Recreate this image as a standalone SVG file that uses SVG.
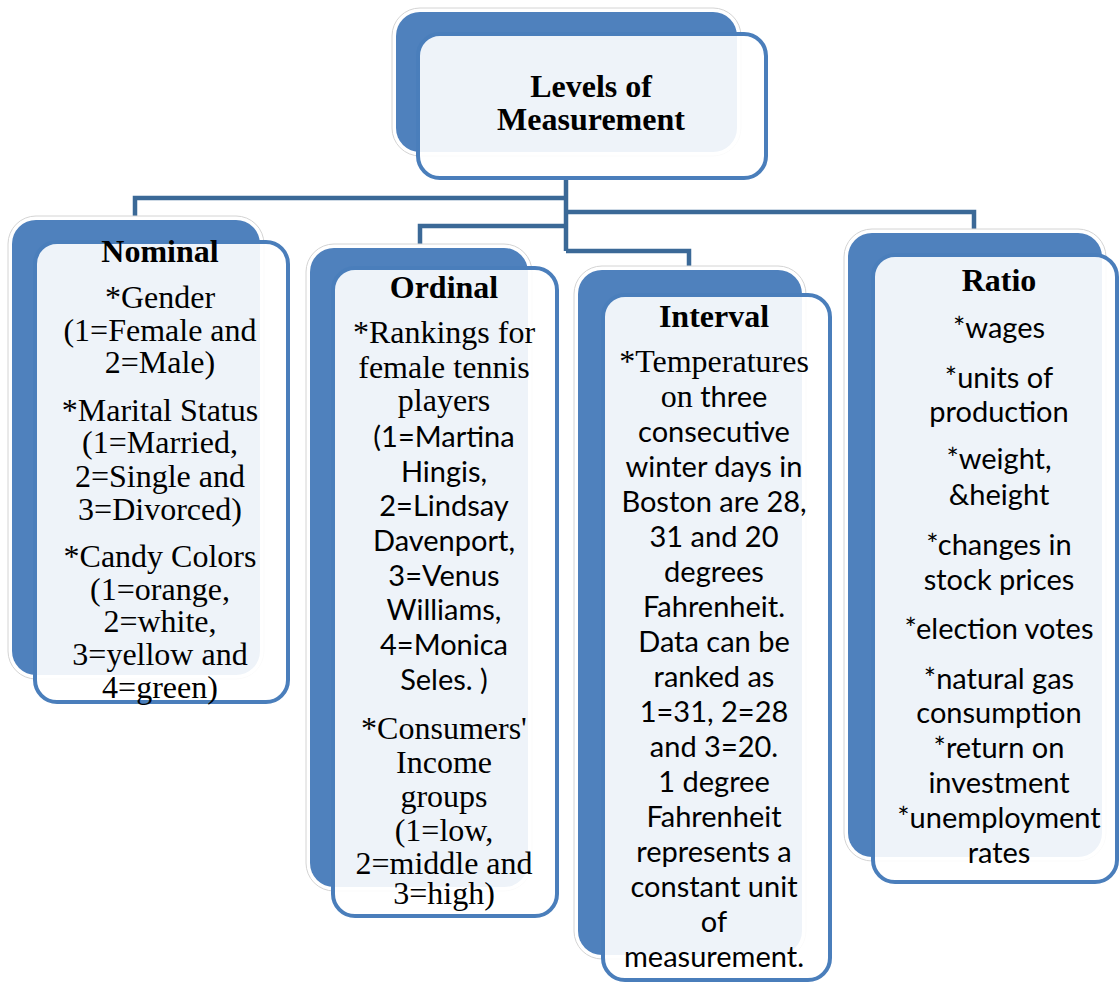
<svg xmlns="http://www.w3.org/2000/svg" width="1119" height="983" viewBox="0 0 1119 983">
<style>
.halo{fill:#fff;stroke:#d4d4d4;stroke-width:1}
.back{fill:#4F81BD}
.front{fill:#fff;fill-opacity:0.9;stroke:#4A7EBB;stroke-width:4}
.conn{fill:none;stroke:#3B6997;stroke-width:4.5;stroke-linejoin:miter}
text{font-family:"Liberation Serif","Times New Roman",serif;font-size:32px;text-anchor:middle;fill:#000}
.h{font-weight:bold;font-size:32px}
.s{font-family:Lato,"Liberation Sans",sans-serif;font-size:29px}
.r{font-family:"Liberation Serif","Times New Roman",serif;font-size:32px}
</style>
<rect width="1119" height="983" fill="#fff"/>
<g id="connectors">
<path class="conn" d="M566,178 V251"/>
<path class="conn" d="M566,198 H135 V220"/>
<path class="conn" d="M566,212 H974 V234"/>
<path class="conn" d="M566,226 H420 V249"/>
<path class="conn" d="M566,251 H689 V271"/>
</g>
<g id="node-top">
<rect class="halo" x="392" y="8" width="349" height="148" rx="28"/>
<rect class="back" x="396" y="12" width="341" height="140" rx="24"/>
<rect class="front" x="418" y="34" width="348" height="144" rx="22"/>
<text class="h" x="591" y="97">Levels of</text>
<text class="h" x="591" y="130">Measurement</text>
</g>
<g id="node-nominal">
<rect class="halo" x="8" y="216" width="256" height="463" rx="28"/>
<rect class="back" x="12" y="220" width="248" height="455" rx="24"/>
<rect class="front" x="35" y="242" width="253" height="460" rx="22"/>
<text class="h" x="160" y="262">Nominal</text>
<text x="160" y="308">*Gender</text>
<text x="160" y="341">(1=Female and</text>
<text x="160" y="373">2=Male)</text>
<text x="160" y="421">*Marital Status</text>
<text x="160" y="453">(1=Married,</text>
<text x="160" y="487">2=Single and</text>
<text x="160" y="520">3=Divorced)</text>
<text x="160" y="567">*Candy Colors</text>
<text x="160" y="600">(1=orange,</text>
<text x="160" y="632">2=white,</text>
<text x="160" y="665">3=yellow and</text>
<text x="160" y="698">4=green)</text>
</g>
<g id="node-ordinal">
<rect class="halo" x="306" y="244" width="226" height="647" rx="28"/>
<rect class="back" x="310" y="248" width="218" height="639" rx="24"/>
<rect class="front" x="333" y="268" width="224" height="648" rx="22"/>
<text class="h" x="444" y="298">Ordinal</text>
<text x="444" y="343">*Rankings for</text>
<text x="444" y="378">female tennis</text>
<text x="444" y="411">players</text>
<text class="s" x="444" y="447">(1=Martina</text>
<text class="s" x="444" y="482">Hingis,</text>
<text class="s" x="444" y="516">2=Lindsay</text>
<text class="s" x="444" y="551">Davenport,</text>
<text class="s" x="444" y="586">3=Venus</text>
<text class="s" x="444" y="620">Williams,</text>
<text class="s" x="444" y="655">4=Monica</text>
<text class="s" x="444" y="690">Seles. )</text>
<text x="444" y="739">*Consumers'</text>
<text x="444" y="773">Income</text>
<text x="444" y="807">groups</text>
<text x="444" y="841">(1=low,</text>
<text x="444" y="874">2=middle and</text>
<text x="444" y="904">3=high)</text>
</g>
<g id="node-interval">
<rect class="halo" x="574" y="266" width="232" height="693" rx="28"/>
<rect class="back" x="578" y="270" width="224" height="685" rx="24"/>
<rect class="front" x="603" y="295" width="227" height="685" rx="22"/>
<text class="h" x="714" y="327">Interval</text>
<text x="714" y="372">*Temperatures</text>
<text class="s" x="714" y="407"><tspan class="r">on</tspan> three</text>
<text class="s" x="714" y="442">consecutive</text>
<text class="s" x="714" y="477">winter days in</text>
<text class="s" x="714" y="512">Boston are 28,</text>
<text class="s" x="714" y="547">31 and 20</text>
<text class="s" x="714" y="582">degrees</text>
<text class="s" x="714" y="617">Fahrenheit.</text>
<text class="s" x="714" y="652">Data can be</text>
<text class="s" x="714" y="687">ranked as</text>
<text class="s" x="714" y="722">1=31, 2=28</text>
<text class="s" x="714" y="757">and 3=20.</text>
<text class="s" x="714" y="792">1 degree</text>
<text class="s" x="714" y="827">Fahrenheit</text>
<text class="s" x="714" y="862">represents a</text>
<text class="s" x="714" y="897">constant unit</text>
<text class="s" x="714" y="932">of</text>
<text class="s" x="714" y="967">measurement.</text>
</g>
<g id="node-ratio">
<rect class="halo" x="844" y="229" width="262" height="632" rx="28"/>
<rect class="back" x="848" y="233" width="254" height="624" rx="24"/>
<rect class="front" x="873" y="255" width="244" height="627" rx="22"/>
<text class="h" x="999" y="291">Ratio</text>
<text class="s" x="999" y="338">*wages</text>
<text class="s" x="999" y="388">*units of</text>
<text class="s" x="999" y="422">production</text>
<text class="s" x="999" y="469">*weight,</text>
<text class="s" x="999" y="505">&amp;height</text>
<text class="s" x="999" y="555">*changes in</text>
<text class="s" x="999" y="590">stock prices</text>
<text class="s" x="999" y="639">*election votes</text>
<text class="s" x="999" y="689">*natural gas</text>
<text class="s" x="999" y="723">consumption</text>
<text class="s" x="999" y="758">*return on</text>
<text class="s" x="999" y="793">investment</text>
<text class="s" x="999" y="828">*unemployment</text>
<text class="s" x="999" y="863">rates</text>
</g>
</svg>
